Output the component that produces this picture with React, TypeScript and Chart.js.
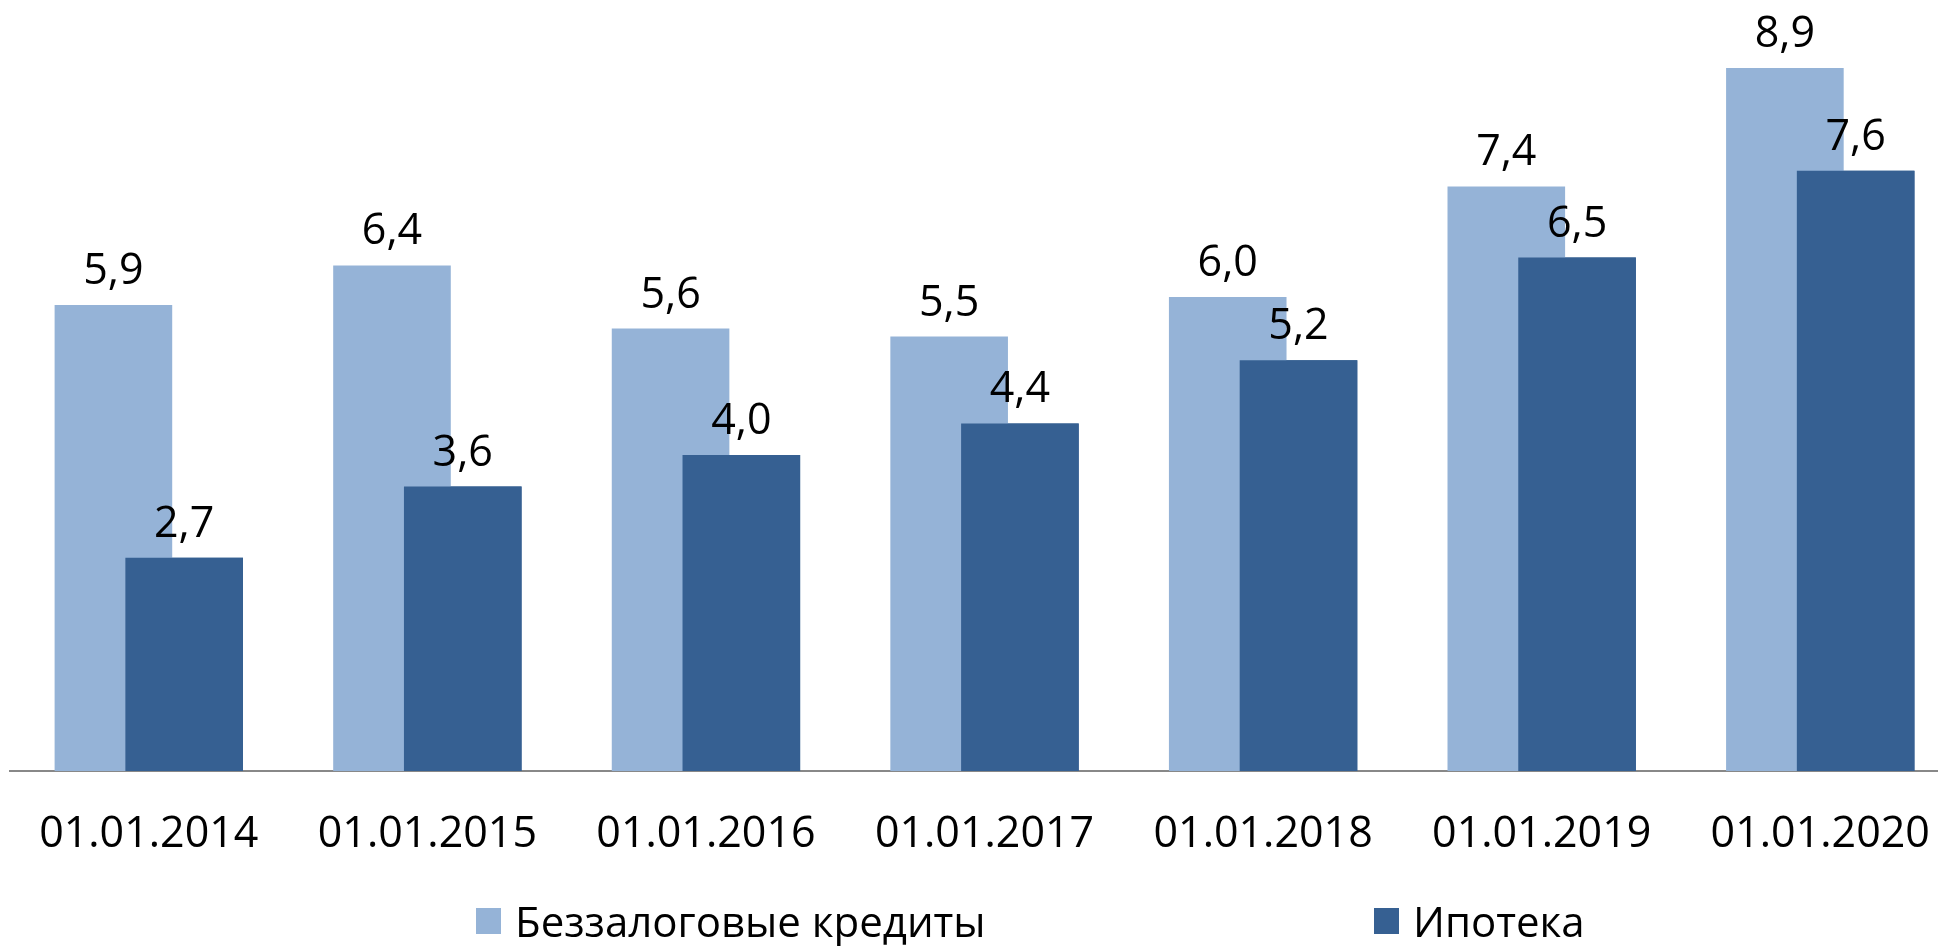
import React, { useEffect, useRef } from "react";
import { Chart, registerables } from "chart.js";

Chart.register(...registerables);

const categories = [
  "01.01.2014",
  "01.01.2015",
  "01.01.2016",
  "01.01.2017",
  "01.01.2018",
  "01.01.2019",
  "01.01.2020",
];
const unsecuredLoans = [5.9, 6.4, 5.6, 5.5, 6.0, 7.4, 8.9];
const mortgage = [2.7, 3.6, 4.0, 4.4, 5.2, 6.5, 7.6];
const seriesNames = ["Беззалоговые кредиты", "Ипотека"];
const seriesColors = ["#95B3D7", "#366092"];

const FONT = "'Open Sans', 'Noto Sans', sans-serif";
const LABEL_SIZE = 43;

// Chart.js paints the first dataset on top; the reference has the second
// (dark) series overlapping the first, so repaint it afterwards.
const frontSeries = {
  id: "frontSeries",
  afterDatasetsDraw(chart: any) {
    const meta = chart.getDatasetMeta(1);
    if (meta && meta.controller) {
      chart.ctx.save();
      meta.controller.draw();
      chart.ctx.restore();
    }
  },
};

const valueLabels = {
  id: "valueLabels",
  afterDatasetsDraw(chart: any) {
    const ctx = chart.ctx;
    ctx.save();
    ctx.font = `${LABEL_SIZE}px ${FONT}`;
    ctx.fillStyle = "#000";
    ctx.textAlign = "center";
    ctx.textBaseline = "alphabetic";
    chart.data.datasets.forEach((ds: any, di: number) => {
      const meta = chart.getDatasetMeta(di);
      meta.data.forEach((bar: any, i: number) => {
        const v = ds.data[i] as number;
        ctx.fillText(v.toFixed(1).replace(".", ","), bar.x, bar.y - 21);
      });
    });
    ctx.restore();
  },
};

const legendPositions = [476, 1374];

export default function App() {
  const canvasRef = useRef<HTMLCanvasElement | null>(null);

  useEffect(() => {
    if (!canvasRef.current) return;
    const chart = new Chart(canvasRef.current, {
      type: "bar",
      data: {
        labels: categories,
        datasets: [
          {
            label: seriesNames[0],
            data: unsecuredLoans,
            backgroundColor: seriesColors[0],
            borderWidth: 0,
            categoryPercentage: 0.508,
            barPercentage: 1.662,
          },
          {
            label: seriesNames[1],
            data: mortgage,
            backgroundColor: seriesColors[1],
            borderWidth: 0,
            categoryPercentage: 0.508,
            barPercentage: 1.662,
          },
        ],
      },
      options: {
        responsive: false,
        maintainAspectRatio: false,
        animation: false,
        layout: { padding: { left: 9.5, right: 1.3, top: 0, bottom: 0 } },
        plugins: {
          legend: { display: false },
          tooltip: { enabled: false },
        },
        scales: {
          x: {
            grid: { display: false, drawTicks: false },
            border: { display: true, color: "#888888", width: 2 },
            ticks: {
              color: "#000",
              font: { family: FONT, size: LABEL_SIZE },
              padding: 38,
              maxRotation: 0,
              autoSkip: false,
            },
            afterFit: (scale: any) => {
              scale.height = 175;
            },
          },
          y: {
            display: false,
            min: 0,
            max: 9.76,
          },
        },
      },
      plugins: [frontSeries, valueLabels],
    });
    return () => chart.destroy();
  }, []);

  return (
    <div
      style={{
        position: "absolute",
        left: 0,
        top: 0,
        width: 1938,
        height: 946,
        overflow: "hidden",
        background: "#fff",
      }}
    >
      <canvas
        ref={canvasRef}
        width={1968}
        height={946}
        style={{ position: "absolute", left: 0, top: 0, display: "block" }}
      />
      {seriesNames.map((name, i) => (
        <div
          key={name}
          style={{
            position: "absolute",
            left: legendPositions[i],
            top: 896,
            height: 50,
            display: "flex",
            alignItems: "center",
            fontFamily: FONT,
            fontSize: 42,
            lineHeight: 1,
            color: "#000",
            whiteSpace: "nowrap",
          }}
        >
          <span
            style={{
              display: "inline-block",
              width: 25,
              height: 26,
              background: seriesColors[i],
              marginRight: 14,
            }}
          />
          <span>{name}</span>
        </div>
      ))}
    </div>
  );
}
